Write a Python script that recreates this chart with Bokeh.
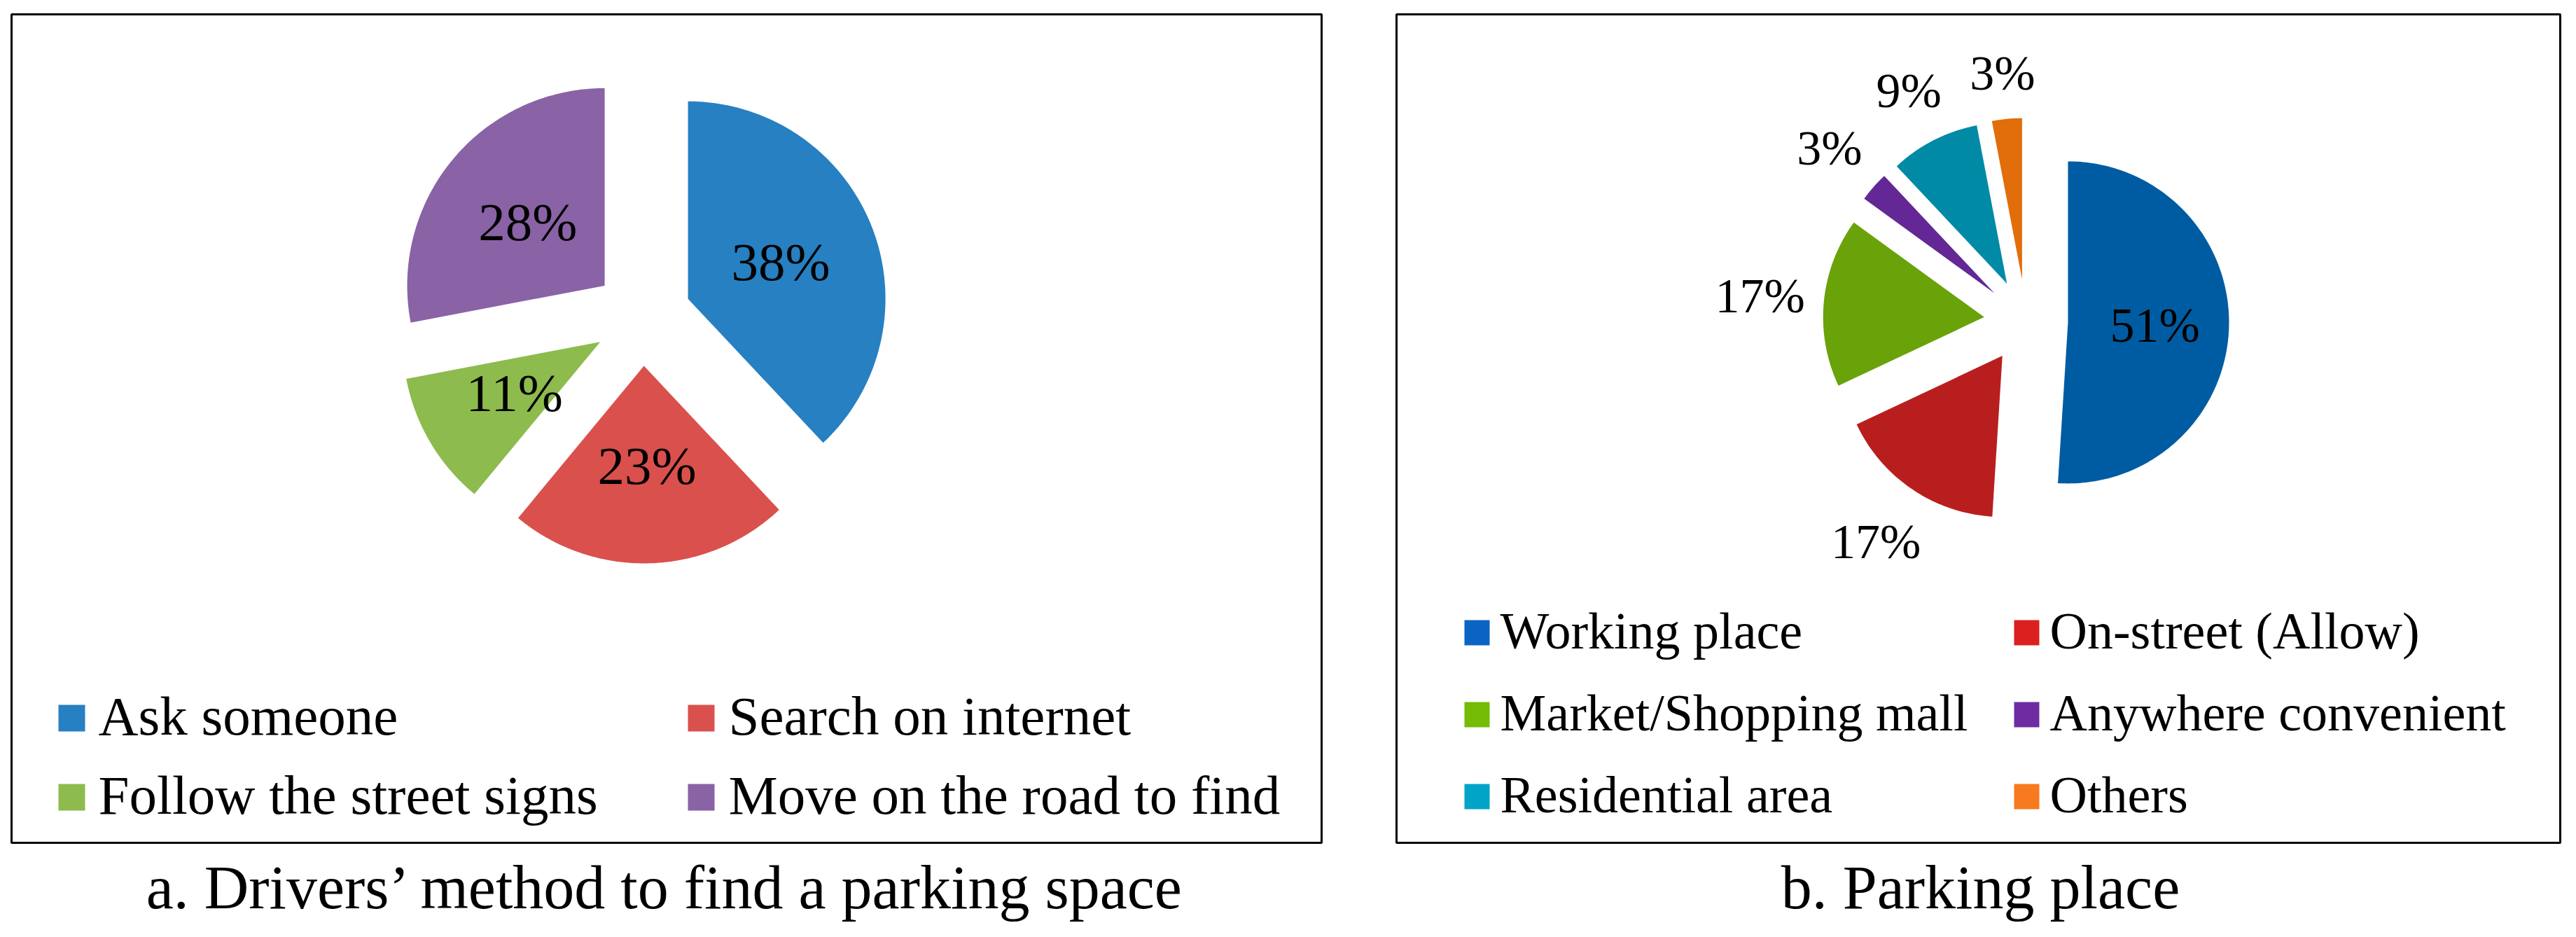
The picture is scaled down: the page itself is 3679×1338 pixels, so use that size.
import numpy as np
from bokeh.plotting import figure
from bokeh.models import Range1d
from bokeh.core.properties import value
from bokeh.embed import file_html
from bokeh.resources import INLINE

# ---------------- data ----------------
methods = ["Ask someone", "Search on internet", "Follow the street signs", "Move on the road to find"]
method_pct = [38, 23, 11, 28]
method_colors = ["#2680C1", "#DA504D", "#8DBB4D", "#8963A5"]

places = ["Working place", "On-street (Allow)", "Market/Shopping mall",
          "Anywhere convenient", "Residential area", "Others"]
place_pct = [51, 17, 17, 3, 9, 3]
place_colors = ["#005CA2", "#B91E1E", "#6AA20A", "#642896", "#008AA6", "#E16E0A"]
place_legend_colors = ["#0A64C4", "#DC2020", "#74BC06", "#6E2CA0", "#00A4C6", "#F77A1E"]

captions = ["a. Drivers\u2019 method to find a parking space", "b. Parking place"]

FONT = value("Liberation Serif")

W, H = 3663, 1322
p = figure(width=W, height=H, output_backend="svg", toolbar_location=None,
           x_range=Range1d(0, W), y_range=Range1d(H, 0),
           min_border=0, outline_line_color=None)
p.axis.visible = False
p.grid.visible = False
p.background_fill_color = "white"
p.border_fill_color = "white"

# panel frames
p.quad(left=[16, 1994], right=[1887, 3656], top=[20, 20], bottom=[1203, 1203],
       fill_alpha=0, line_color="black", line_width=3)


def draw_pie(vals, colors, cx, cy, r, explode):
    v = np.array(vals, dtype=float)
    frac = v / v.sum()
    ends = np.cumsum(frac) * 2 * np.pi
    starts = ends - frac * 2 * np.pi
    mids = (starts + ends) / 2
    xs, ys = [], []
    for a0, a1, m in zip(starts, ends, mids):
        vx = cx + explode * np.sin(m)
        vy = cy - explode * np.cos(m)
        n = max(int(400 * (a1 - a0) / (2 * np.pi)), 6) + 1
        t = np.linspace(a0, a1, n)
        xs.append(np.concatenate([[vx], vx + r * np.sin(t)]).tolist())
        ys.append(np.concatenate([[vy], vy - r * np.cos(t)]).tolist())
    p.patches(xs, ys, fill_color=colors, line_color=None)
    return frac, mids


def labels(x, y, txt, fs, align="center"):
    # y is the visual centre of the text line
    p.text(x=x, y=y, text=txt, text_font=FONT, text_font_size=f"{fs}px",
           text_align=align, text_baseline="alphabetic", text_color="black")


# ---- pie a ----
ca, ra, ea, fsa = (917, 452), 282, 70, 77
frac_a, mids_a = draw_pie(method_pct, method_colors, ca[0], ca[1], ra, ea)
dist = ea + 0.505 * ra
labels([ca[0] + dist * np.sin(m) for m in mids_a],
       [ca[1] - dist * np.cos(m) for m in mids_a],
       [f"{v}%" for v in method_pct], fsa)

# ---- pie b ----
cb, rb, eb, fsb = (2893, 458), 230, 60, 70
frac_b, mids_b = draw_pie(place_pct, place_colors, cb[0], cb[1], rb, eb)
bx, by = [], []
for f, m, v in zip(frac_b, mids_b, place_pct):
    ux, uy = np.sin(m), -np.cos(m)
    if f > 0.3:
        d = eb + 0.54 * rb
    else:
        tw = (0.5 * len(str(v)) + 0.833) * fsb
        th = 1.08 * fsb
        d = eb + rb + 24 + abs(ux) * tw / 2 + abs(uy) * th / 2
    bx.append(cb[0] + d * ux)
    by.append(cb[1] + d * uy)
labels(bx, by, [f"{v}%" for v in place_pct], fsb)


# ---- legends ----
def draw_legend(labs, colors, col_sq_x, col_txt_x, row_mid, sq, fs):
    sx, sy, tx, ty = [], [], [], []
    for i, lab in enumerate(labs):
        row, col = divmod(i, 2)
        sx.append(col_sq_x[col] + sq / 2)
        sy.append(row_mid[row] + 3)
        tx.append(col_txt_x[col])
        ty.append(row_mid[row])
    p.rect(x=sx, y=sy, width=sq, height=sq, fill_color=colors, line_color=None)
    labels(tx, ty, labs, fs, align="left")


draw_legend(methods, method_colors, [83, 982], [140, 1040], [1022, 1135], 38, 79)
draw_legend(places, place_legend_colors, [2091, 2876], [2142, 2927], [900, 1017, 1134], 36, 74)

# ---- captions ----
labels([951, 2828], [1267, 1267], captions, 88)

open("out.html", "w").write(file_html(p, INLINE))
